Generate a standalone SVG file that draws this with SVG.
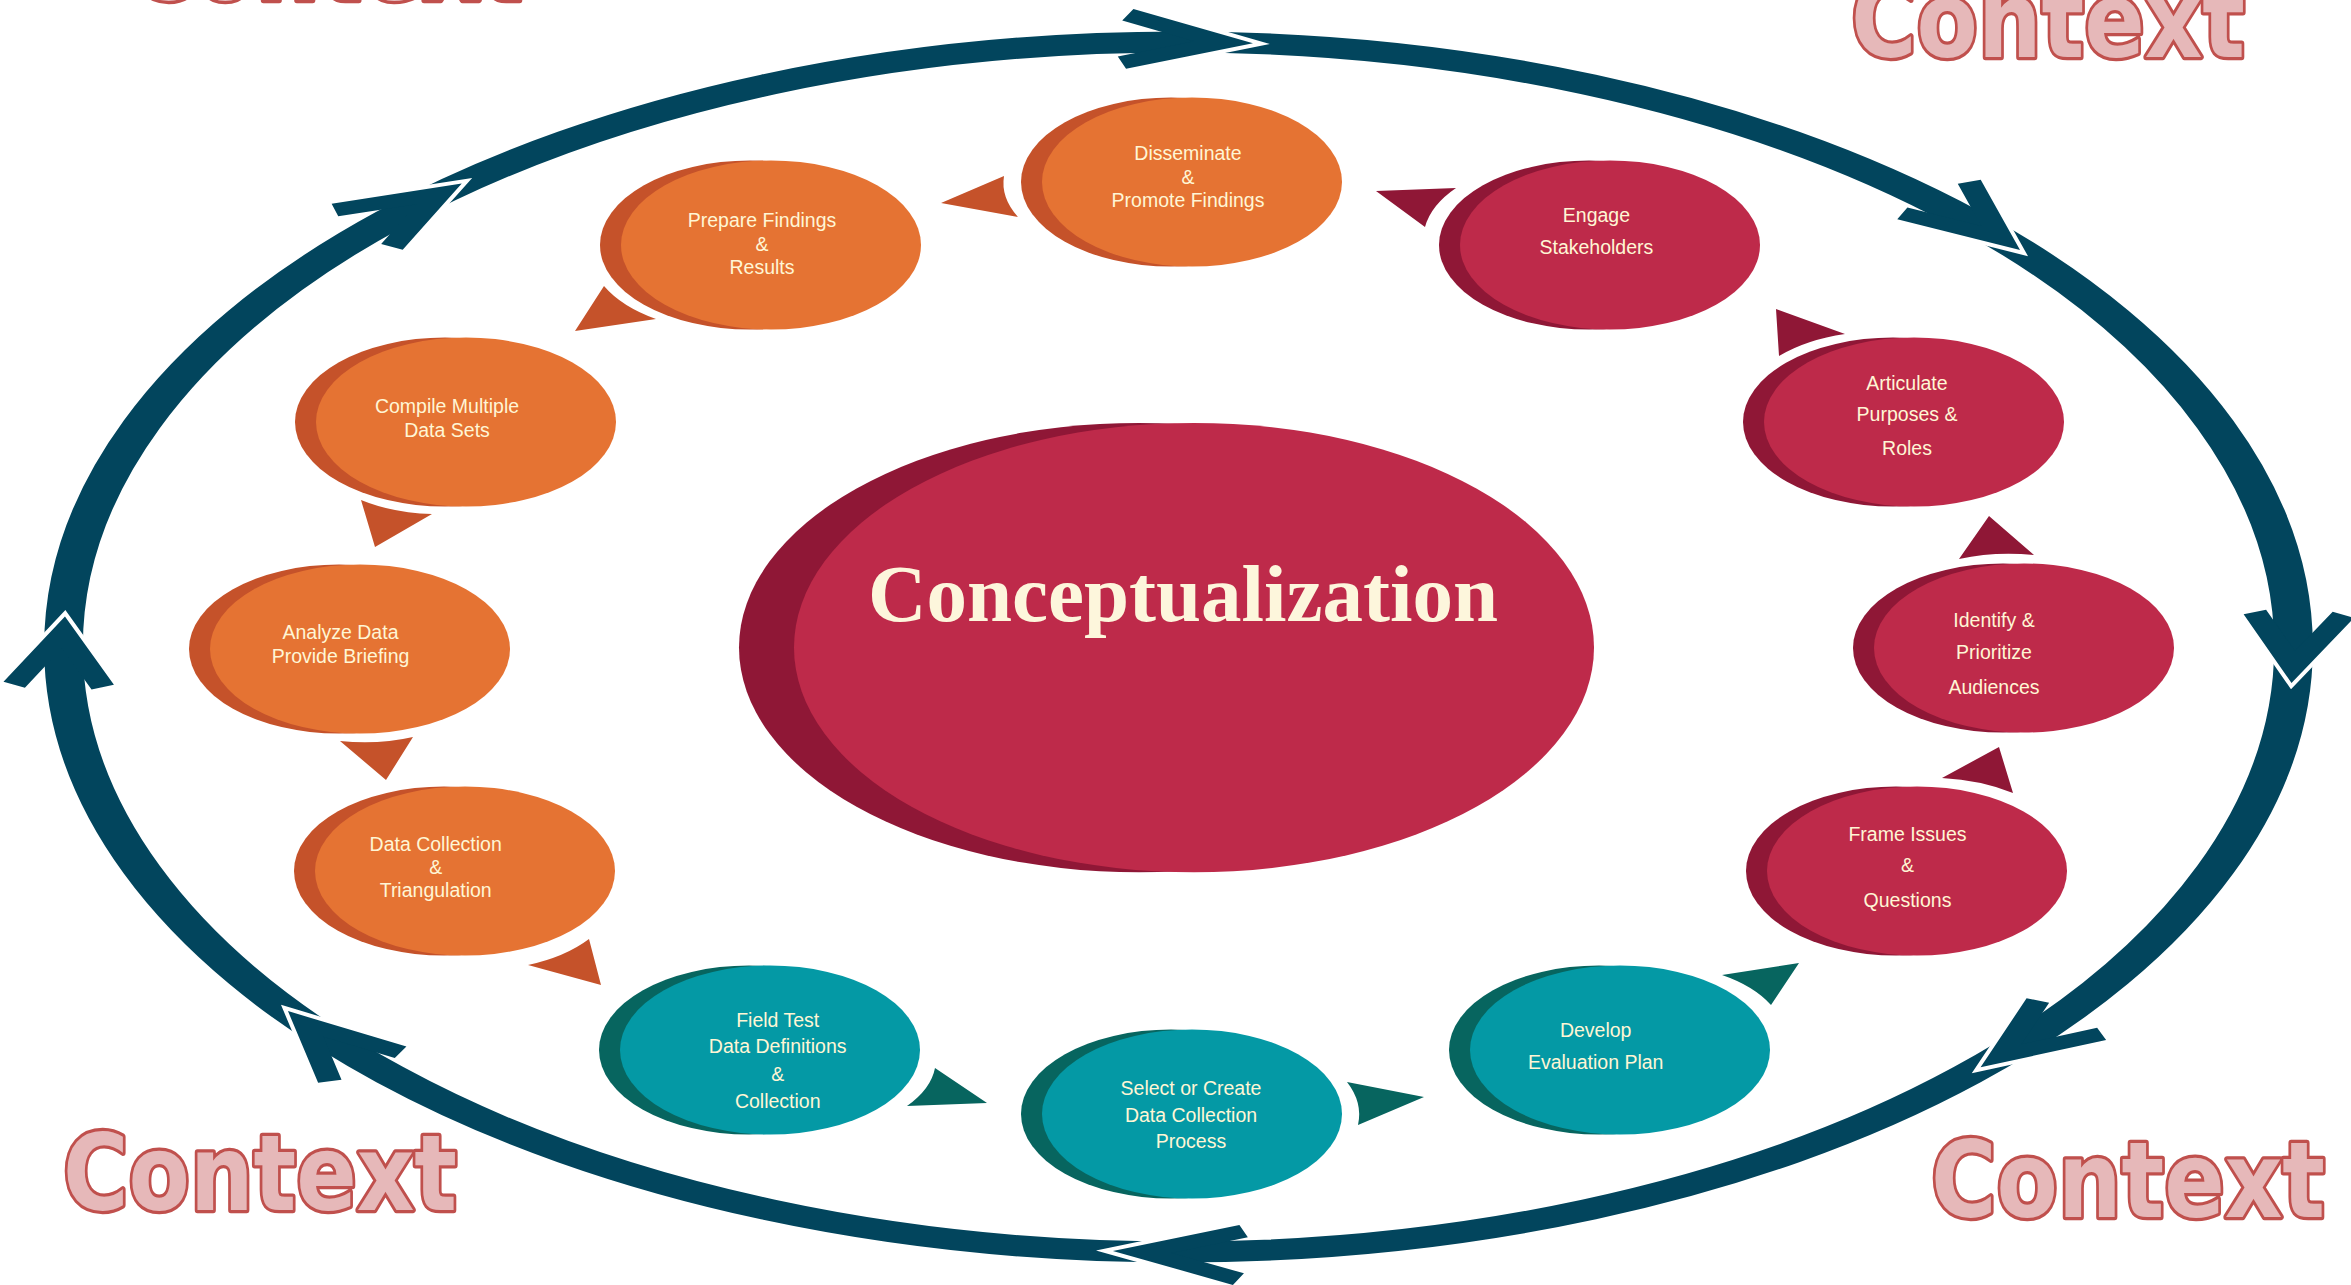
<svg xmlns="http://www.w3.org/2000/svg" xmlns:xlink="http://www.w3.org/1999/xlink" width="2351" height="1285" viewBox="0 0 2351 1285">
<style>
.ring{fill:none;stroke:#02455D;stroke-width:21}
.chevw{fill:none;stroke:#FFFFFF;stroke-width:8;stroke-linejoin:miter;stroke-miterlimit:10}
.chevf{fill:#02455D}
.o1{fill:#E57333}.o2{fill:#C5522A}
.t1{fill:#0499A5}.t2{fill:#07655F}
.c1{fill:#BE2A4A}.c2{fill:#8F1736}
.lbl{font-family:"Liberation Sans",Arial,sans-serif;font-size:19.5px;fill:#FFF6D5;text-anchor:middle}
.title{font-family:"Liberation Serif","Times New Roman",serif;font-weight:bold;font-size:81px;fill:#FDF6DC;text-anchor:middle}
.ctx{font-family:"DejaVu Sans",sans-serif;font-weight:bold;font-size:106px;fill:#E6B8B9;stroke:#C0504D;stroke-width:6.5;stroke-linejoin:round;paint-order:stroke}
</style>
<defs>
<g id="chev">
<path class="chevw" vector-effect="non-scaling-stroke" d="M-67,-30 L0,0 L-67,30"/>
<polygon class="chevf" points="0,0 -67,-30 -72.3,-18.1 -32,0 -72.3,18.1 -67,30"/>
</g>
</defs>
<rect width="2351" height="1285" fill="#FFFFFF"/>

<g id="context-labels">
<text class="ctx" x="129" y="0" textLength="394" lengthAdjust="spacingAndGlyphs">Context</text>
<text class="ctx" x="1851" y="57" textLength="394" lengthAdjust="spacingAndGlyphs">Context</text>
<text class="ctx" x="63" y="1210" textLength="394" lengthAdjust="spacingAndGlyphs">Context</text>
<text class="ctx" x="1931" y="1217" textLength="394" lengthAdjust="spacingAndGlyphs">Context</text>
</g>

<g id="connectors">
<g id="outer-ring" transform="translate(1178.5,647) scale(1.843,1)">
<circle class="ring" cx="0" cy="0" r="605"/>
<use xlink:href="#chev" href="#chev" transform="translate(40.4,-603.7) rotate(3.83)"/>
<use xlink:href="#chev" href="#chev" transform="translate(456.6,-396.9) rotate(49)"/>
<use xlink:href="#chev" href="#chev" transform="translate(603.9,35.9) rotate(93.4)"/>
<use xlink:href="#chev" href="#chev" transform="translate(435.2,420.3) rotate(134)"/>
<use xlink:href="#chev" href="#chev" transform="translate(-35.6,604) rotate(183.37)"/>
<use xlink:href="#chev" href="#chev" transform="translate(-483.2,364.1) rotate(233)"/>
<use xlink:href="#chev" href="#chev" transform="translate(-604.2,-30.6) rotate(272.9)"/>
<use xlink:href="#chev" href="#chev" transform="translate(-388.9,-463.4) rotate(320)"/>
</g>
<g id="step-arrows">
<path class="o2" d="M941,203 L1004,176 Q1000.5,197.5 1018,217 Z"/>
<path class="o2" d="M575,331 L604,286 Q621.8,306.8 656,319 Z"/>
<path class="o2" d="M375,547 L361,500 Q393,513 432,514 Z"/>
<path class="o2" d="M386,780 L340,741 Q378,745 413,737 Z"/>
<path class="o2" d="M601,985 L589,939 Q565,957 528,965 Z"/>
<path class="t2" d="M987,1103 L935,1068 Q931,1089 907,1106 Z"/>
<path class="t2" d="M1424,1097 L1347,1082 Q1363,1102.5 1358,1125 Z"/>
<path class="t2" d="M1799,963 L1722,975 Q1754,986 1771,1005 Z"/>
<path class="c2" d="M1999,747 L1942,778 Q1981,780 2013,793 Z"/>
<path class="c2" d="M1989,516 L1959,559 Q1995,551 2034,555 Z"/>
<path class="c2" d="M1776,309 L1845,334 Q1806.6,339.6 1779,356 Z"/>
<path class="c2" d="M1376,191 L1456,188 Q1431,205 1425,227 Z"/>
</g>
</g>

<g id="conceptualization">
<ellipse class="c2" cx="1139" cy="647.6" rx="400" ry="224.7"/>
<ellipse class="c1" cx="1194" cy="647.6" rx="400" ry="224.7"/>
<text class="title" x="1183" y="621" textLength="630" lengthAdjust="spacingAndGlyphs">Conceptualization</text>
</g>

<g id="node-disseminate">
<ellipse class="o2" cx="1171" cy="182" rx="150" ry="84.5"/>
<ellipse class="o1" cx="1192" cy="182" rx="150" ry="84.5"/>
<text class="lbl" x="1188" y="160">Disseminate</text>
<text class="lbl" x="1188" y="184">&amp;</text>
<text class="lbl" x="1188" y="207">Promote Findings</text>
</g>

<g id="node-prepare">
<ellipse class="o2" cx="750" cy="245" rx="150" ry="84.5"/>
<ellipse class="o1" cx="771" cy="245" rx="150" ry="84.5"/>
<text class="lbl" x="762" y="227">Prepare Findings</text>
<text class="lbl" x="762" y="251">&amp;</text>
<text class="lbl" x="762" y="274">Results</text>
</g>

<g id="node-compile">
<ellipse class="o2" cx="445" cy="422" rx="150" ry="84.5"/>
<ellipse class="o1" cx="466" cy="422" rx="150" ry="84.5"/>
<text class="lbl" x="447" y="413">Compile Multiple</text>
<text class="lbl" x="447" y="437">Data Sets</text>
</g>

<g id="node-analyze">
<ellipse class="o2" cx="339" cy="649" rx="150" ry="84.5"/>
<ellipse class="o1" cx="360" cy="649" rx="150" ry="84.5"/>
<text class="lbl" x="340.5" y="638.5">Analyze Data</text>
<text class="lbl" x="340.5" y="662.6">Provide Briefing</text>
</g>

<g id="node-datacollection">
<ellipse class="o2" cx="444" cy="871" rx="150" ry="84.5"/>
<ellipse class="o1" cx="465" cy="871" rx="150" ry="84.5"/>
<text class="lbl" x="435.7" y="850.6">Data Collection</text>
<text class="lbl" x="435.7" y="873.6">&amp;</text>
<text class="lbl" x="435.7" y="897">Triangulation</text>
</g>

<g id="node-fieldtest">
<ellipse class="t2" cx="749" cy="1050" rx="150" ry="84.5"/>
<ellipse class="t1" cx="770" cy="1050" rx="150" ry="84.5"/>
<text class="lbl" x="777.7" y="1026.7">Field Test</text>
<text class="lbl" x="777.7" y="1053.4">Data Definitions</text>
<text class="lbl" x="777.7" y="1081">&amp;</text>
<text class="lbl" x="777.7" y="1108">Collection</text>
</g>

<g id="node-select">
<ellipse class="t2" cx="1171" cy="1114" rx="150" ry="84.5"/>
<ellipse class="t1" cx="1192" cy="1114" rx="150" ry="84.5"/>
<text class="lbl" x="1191" y="1095">Select or Create</text>
<text class="lbl" x="1191" y="1121.7">Data Collection</text>
<text class="lbl" x="1191" y="1148.3">Process</text>
</g>

<g id="node-develop">
<ellipse class="t2" cx="1599" cy="1050" rx="150" ry="84.5"/>
<ellipse class="t1" cx="1620" cy="1050" rx="150" ry="84.5"/>
<text class="lbl" x="1595.7" y="1037">Develop</text>
<text class="lbl" x="1595.7" y="1068.6">Evaluation Plan</text>
</g>

<g id="node-frame">
<ellipse class="c2" cx="1896" cy="871" rx="150" ry="84.5"/>
<ellipse class="c1" cx="1917" cy="871" rx="150" ry="84.5"/>
<text class="lbl" x="1907.5" y="840.7">Frame Issues</text>
<text class="lbl" x="1907.5" y="872.4">&amp;</text>
<text class="lbl" x="1907.5" y="907">Questions</text>
</g>

<g id="node-identify">
<ellipse class="c2" cx="2003" cy="648" rx="150" ry="84.5"/>
<ellipse class="c1" cx="2024" cy="648" rx="150" ry="84.5"/>
<text class="lbl" x="1994" y="627">Identify &amp;</text>
<text class="lbl" x="1994" y="658.5">Prioritize</text>
<text class="lbl" x="1994" y="693.5">Audiences</text>
</g>

<g id="node-articulate">
<ellipse class="c2" cx="1893" cy="422" rx="150" ry="84.5"/>
<ellipse class="c1" cx="1914" cy="422" rx="150" ry="84.5"/>
<text class="lbl" x="1907" y="389.7">Articulate</text>
<text class="lbl" x="1907" y="420.5">Purposes &amp;</text>
<text class="lbl" x="1907" y="455">Roles</text>
</g>

<g id="node-engage">
<ellipse class="c2" cx="1589" cy="245" rx="150" ry="84.5"/>
<ellipse class="c1" cx="1610" cy="245" rx="150" ry="84.5"/>
<text class="lbl" x="1596.4" y="221.8">Engage</text>
<text class="lbl" x="1596.4" y="253.7">Stakeholders</text>
</g>
</svg>
